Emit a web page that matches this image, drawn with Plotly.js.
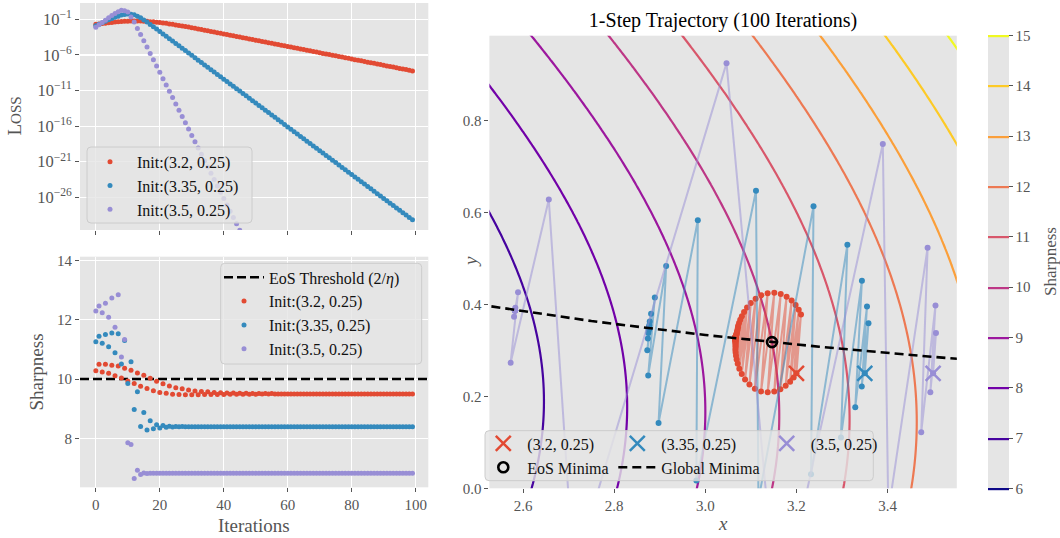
<!DOCTYPE html>
<html>
<head>
<meta charset="utf-8">
<script src="https://cdn.plot.ly/plotly-3.0.1.min.js"></script>
<style>html,body{margin:0;padding:0;background:#fff;}</style>
</head>
<body>
<div id="chart" style="width:1060px;height:538px;"></div>
<script>
// ---------------- data ----------------
const iterations = [
 0,1,2,3,4,5,6,7,8,9,10,11,12,13,14,15,16,17,18,19,
 20,21,22,23,24,25,26,27,28,29,30,31,32,33,34,35,36,37,38,39,
 40,41,42,43,44,45,46,47,48,49,50,51,52,53,54,55,56,57,58,59,
 60,61,62,63,64,65,66,67,68,69,70,71,72,73,74,75,76,77,78,79,
 80,81,82,83,84,85,86,87,88,89,90,91,92,93,94,95,96,97,98,99];

const seriesNames = ['Init:(3.2, 0.25)', 'Init:(3.35, 0.25)', 'Init:(3.5, 0.25)'];
const initLabels = ['(3.2, 0.25)', '(3.35, 0.25)', '(3.5, 0.25)'];
const initX = [3.2, 3.35, 3.5];
const initY = [0.25, 0.25, 0.25];

// loss, given as log10 values
const lossRedLog10 = [
 -1.70,-1.64,-1.58,-1.53,-1.47,-1.43,-1.37,-1.34,-1.30,-1.28,
 -1.25,-1.24,-1.22,-1.24,-1.23,-1.26,-1.27,-1.32,-1.34,-1.40,
 -1.44,-1.51,-1.56,-1.64,-1.70,-1.78,-1.85,-1.93,-2.01,-2.09,
 -2.17,-2.26,-2.34,-2.43,-2.52,-2.61,-2.70,-2.78,-2.87,-2.96,
 -3.05,-3.14,-3.22,-3.31,-3.40,-3.49,-3.58,-3.66,-3.75,-3.84,
 -3.93,-4.02,-4.10,-4.19,-4.28,-4.37,-4.46,-4.54,-4.63,-4.72,
 -4.81,-4.90,-4.98,-5.07,-5.16,-5.25,-5.34,-5.42,-5.51,-5.60,
 -5.69,-5.78,-5.86,-5.95,-6.04,-6.13,-6.22,-6.30,-6.39,-6.48,
 -6.57,-6.66,-6.74,-6.83,-6.92,-7.01,-7.10,-7.18,-7.27,-7.36,
 -7.45,-7.54,-7.62,-7.71,-7.80,-7.89,-7.98,-8.06,-8.15,-8.24];
const lossBlueLog10 = [
 -1.88,-1.68,-1.47,-1.27,-1.07,-0.89,-0.70,-0.55,-0.39,-0.31,
 -0.24,-0.29,-0.35,-0.56,-0.76,-1.08,-1.36,-1.71,-2.02,-2.37,
 -2.70,-3.04,-3.37,-3.71,-4.04,-4.38,-4.72,-5.05,-5.39,-5.72,
 -6.06,-6.39,-6.73,-7.06,-7.40,-7.73,-8.07,-8.40,-8.74,-9.07,
 -9.41,-9.74,-10.08,-10.41,-10.75,-11.08,-11.42,-11.75,-12.09,-12.42,
 -12.76,-13.09,-13.43,-13.76,-14.10,-14.43,-14.77,-15.10,-15.44,-15.77,
 -16.11,-16.44,-16.78,-17.11,-17.45,-17.78,-18.12,-18.45,-18.79,-19.12,
 -19.46,-19.79,-20.13,-20.46,-20.80,-21.13,-21.47,-21.80,-22.14,-22.47,
 -22.81,-23.14,-23.48,-23.81,-24.15,-24.48,-24.82,-25.15,-25.49,-25.82,
 -26.16,-26.49,-26.83,-27.16,-27.50,-27.83,-28.17,-28.50,-28.84,-29.17];
// purple drops out of the axis range after iteration 46
const lossPurpleLog10 = [
 -2.11,-1.77,-1.44,-1.11,-0.78,-0.47,-0.16,0.07,0.27,0.22,
 0.05,-0.65,-1.36,-2.27,-3.13,-4.02,-4.89,-5.78,-6.67,-7.55,
 -8.44,-9.33,-10.22,-11.10,-11.99,-12.88,-13.76,-14.65,-15.54,-16.42,
 -17.31,-18.20,-19.09,-19.97,-20.86,-21.75,-22.63,-23.52,-24.41,-25.29,
 -26.18,-27.07,-27.95,-28.84,-29.73,-30.62,-31.50];

const sharpRed = [
 10.28,10.50,10.24,10.50,10.20,10.47,10.11,10.44,10.04,10.37,
 9.94,10.30,9.85,10.21,9.76,10.13,9.68,10.03,9.61,9.93,
 9.55,9.84,9.52,9.77,9.49,9.71,9.48,9.67,9.47,9.63,
 9.47,9.60,9.47,9.58,9.48,9.57,9.48,9.55,9.48,9.54,
 9.48,9.53,9.49,9.53,9.49,9.52,9.49,9.52,9.49,9.51,
 9.49,9.51,9.50,9.51,9.50,9.51,9.50,9.50,9.50,9.50,
 9.50,9.50,9.50,9.50,9.50,9.50,9.50,9.50,9.50,9.50,
 9.50,9.50,9.50,9.50,9.50,9.50,9.50,9.50,9.50,9.50,
 9.50,9.50,9.50,9.50,9.50,9.50,9.50,9.50,9.50,9.50,
 9.50,9.50,9.50,9.50,9.50,9.50,9.50,9.50,9.50,9.50];
const sharpBlue = [
 11.26,11.45,11.21,11.51,11.09,11.56,10.89,11.53,10.51,11.30,
 9.85,10.59,8.97,9.57,8.40,8.87,8.28,8.59,8.32,8.46,
 8.35,8.43,8.37,8.41,8.38,8.40,8.39,8.40,8.39,8.39,
 8.39,8.39,8.39,8.39,8.39,8.39,8.39,8.39,8.39,8.39,
 8.39,8.39,8.39,8.39,8.39,8.39,8.39,8.39,8.39,8.39,
 8.39,8.39,8.39,8.39,8.39,8.39,8.39,8.39,8.39,8.39,
 8.39,8.39,8.39,8.39,8.39,8.39,8.39,8.39,8.39,8.39,
 8.39,8.39,8.39,8.39,8.39,8.39,8.39,8.39,8.39,8.39,
 8.39,8.39,8.39,8.39,8.39,8.39,8.39,8.39,8.39,8.39,
 8.39,8.39,8.39,8.39,8.39,8.39,8.39,8.39,8.39,8.39];
const sharpPurple = [
 12.30,12.47,12.24,12.56,12.09,12.74,11.75,12.85,10.75,11.34,
 7.85,7.79,6.64,6.92,6.78,6.83,6.81,6.82,6.82,6.82,
 6.82,6.82,6.82,6.82,6.82,6.82,6.82,6.82,6.82,6.82,
 6.82,6.82,6.82,6.82,6.82,6.82,6.82,6.82,6.82,6.82,
 6.82,6.82,6.82,6.82,6.82,6.82,6.82,6.82,6.82,6.82,
 6.82,6.82,6.82,6.82,6.82,6.82,6.82,6.82,6.82,6.82,
 6.82,6.82,6.82,6.82,6.82,6.82,6.82,6.82,6.82,6.82,
 6.82,6.82,6.82,6.82,6.82,6.82,6.82,6.82,6.82,6.82,
 6.82,6.82,6.82,6.82,6.82,6.82,6.82,6.82,6.82,6.82,
 6.82,6.82,6.82,6.82,6.82,6.82,6.82,6.82,6.82,6.82];
const eosThreshold = 10;

// trajectories (x, y)
const trajRedX = [
 3.2000,3.2100,3.1939,3.2050,3.1861,3.1982,3.1763,3.1894,3.1647,3.1784,
 3.1513,3.1655,3.1369,3.1514,3.1224,3.1368,3.1087,3.1229,3.0968,3.1104,
 3.0872,3.0999,3.0799,3.0915,3.0746,3.0850,3.0711,3.0802,3.0687,3.0766,
 3.0673,3.0740,3.0665,3.0721,3.0660,3.0717,3.0663,3.0710,3.0664,3.0702,
 3.0663,3.0695,3.0663,3.0689,3.0663,3.0685,3.0662,3.0680,3.0662,3.0677,
 3.0661,3.0675,3.0661,3.0672,3.0660,3.0670,3.0660,3.0668,3.0659,3.0666,
 3.0658,3.0664,3.0658,3.0663,3.0657,3.0662,3.0657,3.0661,3.0656,3.0660,
 3.0655,3.0658,3.0655,3.0657,3.0654,3.0656,3.0654,3.0656,3.0653,3.0655,
 3.0653,3.0655,3.0653,3.0654,3.0653,3.0654,3.0652,3.0654,3.0652,3.0653,
 3.0652,3.0653,3.0652,3.0653,3.0652,3.0653,3.0652,3.0652,3.0652,3.0652];
const trajRedY = [
 0.2500,0.3780,0.2410,0.3881,0.2318,0.3984,0.2230,0.4083,0.2156,0.4167,
 0.2104,0.4227,0.2086,0.4254,0.2107,0.4243,0.2167,0.4196,0.2257,0.4121,
 0.2368,0.4029,0.2486,0.3930,0.2601,0.3833,0.2707,0.3743,0.2801,0.3663,
 0.2882,0.3594,0.2950,0.3535,0.3007,0.3502,0.3050,0.3461,0.3087,0.3427,
 0.3117,0.3399,0.3143,0.3376,0.3164,0.3357,0.3181,0.3341,0.3196,0.3328,
 0.3208,0.3317,0.3217,0.3308,0.3225,0.3301,0.3232,0.3295,0.3238,0.3290,
 0.3243,0.3285,0.3247,0.3282,0.3250,0.3279,0.3253,0.3277,0.3255,0.3275,
 0.3257,0.3273,0.3259,0.3271,0.3260,0.3270,0.3261,0.3269,0.3262,0.3268,
 0.3262,0.3267,0.3263,0.3267,0.3263,0.3266,0.3264,0.3266,0.3264,0.3266,
 0.3265,0.3265,0.3265,0.3265,0.3265,0.3265,0.3265,0.3265,0.3265,0.3265];
const trajBlueX = [
 3.3500,3.3581,3.3434,3.3549,3.3291,3.3437,3.2977,3.3118,3.2320,3.2375,
 3.1166,3.1112,2.9803,2.9835,2.8973,2.9140,2.8746,2.8891,2.8726,2.8809,
 2.8739,2.8780,2.8749,2.8770,2.8756,2.8765,2.8759,2.8763,2.8760,2.8762,
 2.8761,2.8761,2.8761,2.8761,2.8761,2.8761,2.8761,2.8761,2.8761,2.8761,
 2.8761,2.8761,2.8761,2.8761,2.8761,2.8761,2.8761,2.8761,2.8761,2.8761,
 2.8761,2.8761,2.8761,2.8761,2.8761,2.8761,2.8761,2.8761,2.8761,2.8761,
 2.8761,2.8761,2.8761,2.8761,2.8761,2.8761,2.8761,2.8761,2.8761,2.8761,
 2.8761,2.8761,2.8761,2.8761,2.8761,2.8761,2.8761,2.8761,2.8761,2.8761,
 2.8761,2.8761,2.8761,2.8761,2.8761,2.8761,2.8761,2.8761,2.8761,2.8761,
 2.8761,2.8761,2.8761,2.8761,2.8761,2.8761,2.8761,2.8761,2.8761,2.8761];
const trajBlueY = [
 0.2500,0.3589,0.2211,0.3955,0.1762,0.4515,0.1107,0.5295,0.0304,0.6133,
 -0.0249,0.6468,0.0169,0.5829,0.1419,0.4831,0.2454,0.4147,0.3002,0.3793,
 0.3259,0.3624,0.3377,0.3545,0.3431,0.3508,0.3456,0.3491,0.3467,0.3483,
 0.3472,0.3480,0.3475,0.3478,0.3477,0.3477,0.3477,0.3477,0.3477,0.3477,
 0.3477,0.3477,0.3477,0.3477,0.3477,0.3477,0.3477,0.3477,0.3477,0.3477,
 0.3477,0.3477,0.3477,0.3477,0.3477,0.3477,0.3477,0.3477,0.3477,0.3477,
 0.3477,0.3477,0.3477,0.3477,0.3477,0.3477,0.3477,0.3477,0.3477,0.3477,
 0.3477,0.3477,0.3477,0.3477,0.3477,0.3477,0.3477,0.3477,0.3477,0.3477,
 0.3477,0.3477,0.3477,0.3477,0.3477,0.3477,0.3477,0.3477,0.3477,0.3477,
 0.3477,0.3477,0.3477,0.3477,0.3477,0.3477,0.3477,0.3477,0.3477,0.3477];
const trajPurpleX = [
 3.5000,3.5063,3.4939,3.5052,3.4739,3.4879,3.4017,3.3896,3.1595,3.0465,
 2.7108,2.6564,2.5726,2.5889,2.5801,2.5829,2.5819,2.5823,2.5821,2.5822,
 2.5822,2.5822,2.5822,2.5822,2.5822,2.5822,2.5822,2.5822,2.5822,2.5822,
 2.5822,2.5822,2.5822,2.5822,2.5822,2.5822,2.5822,2.5822,2.5822,2.5822,
 2.5822,2.5822,2.5822,2.5822,2.5822,2.5822,2.5822,2.5822,2.5822,2.5822,
 2.5822,2.5822,2.5822,2.5822,2.5822,2.5822,2.5822,2.5822,2.5822,2.5822,
 2.5822,2.5822,2.5822,2.5822,2.5822,2.5822,2.5822,2.5822,2.5822,2.5822,
 2.5822,2.5822,2.5822,2.5822,2.5822,2.5822,2.5822,2.5822,2.5822,2.5822,
 2.5822,2.5822,2.5822,2.5822,2.5822,2.5822,2.5822,2.5822,2.5822,2.5822,
 2.5822,2.5822,2.5822,2.5822,2.5822,2.5822,2.5822,2.5822,2.5822,2.5822];
const trajPurpleY = [
 0.2500,0.3375,0.2089,0.3976,0.1216,0.5229,-0.0518,0.7484,-0.2934,0.9243,
 -0.1821,0.6277,0.2731,0.4261,0.3727,0.3925,0.3854,0.3880,0.3870,0.3874,
 0.3873,0.3873,0.3873,0.3873,0.3873,0.3873,0.3873,0.3873,0.3873,0.3873,
 0.3873,0.3873,0.3873,0.3873,0.3873,0.3873,0.3873,0.3873,0.3873,0.3873,
 0.3873,0.3873,0.3873,0.3873,0.3873,0.3873,0.3873,0.3873,0.3873,0.3873,
 0.3873,0.3873,0.3873,0.3873,0.3873,0.3873,0.3873,0.3873,0.3873,0.3873,
 0.3873,0.3873,0.3873,0.3873,0.3873,0.3873,0.3873,0.3873,0.3873,0.3873,
 0.3873,0.3873,0.3873,0.3873,0.3873,0.3873,0.3873,0.3873,0.3873,0.3873,
 0.3873,0.3873,0.3873,0.3873,0.3873,0.3873,0.3873,0.3873,0.3873,0.3873,
 0.3873,0.3873,0.3873,0.3873,0.3873,0.3873,0.3873,0.3873,0.3873,0.3873];

// global minima curve (xy = 1) and EoS minimum
const globalMinX = [2.50, 2.75, 3.00, 3.25, 3.50, 3.60];
const globalMinY = [0.4000, 0.3636, 0.3333, 0.3077, 0.2857, 0.2778];
const eosMinX = [3.1463];
const eosMinY = [0.3178];

// sharpness contour levels
const contourLevels = [6, 7, 8, 9, 10, 11, 12, 13, 14, 15];

// ---------------- styling ----------------
const FONT = '"Liberation Serif", "DejaVu Serif", serif';
const W = 1060, H = 538;
const fx = v => v / W, fy = v => 1 - v / H;
const RED = '#E24A33', BLUE = '#348ABD', PURPLE = '#988ED5';
const RED_A = 'rgba(226,74,51,0.5)', BLUE_A = 'rgba(52,138,189,0.5)', PURPLE_A = 'rgba(152,142,213,0.5)';
const plasma = ['#0d0887','#46039f','#7201a8','#9c179e','#bd3786','#d8576b','#ed7953','#fb9f3a','#fdca26','#f0f921'];
const plasmaScale = plasma.map((c, i) => [i / (plasma.length - 1), c]);
const GRAY = '#555555';
const leftXRange = [-4.95, 103.95];

// sharpness surface: largest Hessian eigenvalue of L(x,y) = (xy-1)^2 / 2
function hessTopEig(x, y) {
  const a = y * y, d = x * x, b = 2 * x * y - 1;
  const m = (a + d) / 2, h = (d - a) / 2;
  return m + Math.sqrt(h * h + b * b);
}
const gridX = [], gridY = [];
for (let i = 0; i <= 110; i++) gridX.push(2.50 + i * 0.01);
for (let j = 0; j <= 104; j++) gridY.push(-0.02 + j * 0.01);
const gridZ = gridY.map(y => gridX.map(x => hessTopEig(x, y)));

const toPow = a => a.map(v => Math.pow(10, v));

const traces = [];
// --- loss panel
[[lossRedLog10, RED], [lossBlueLog10, BLUE], [lossPurpleLog10, PURPLE]].forEach((s, i) => {
  traces.push({type: 'scatter', mode: 'markers', x: iterations, y: toPow(s[0]),
    xaxis: 'x', yaxis: 'y', name: seriesNames[i], legend: 'legend',
    marker: {color: s[1], size: 5}, hoverinfo: 'skip'});
});
// --- sharpness panel
traces.push({type: 'scatter', mode: 'lines', x: leftXRange, y: [eosThreshold, eosThreshold],
  xaxis: 'x2', yaxis: 'y2', name: 'EoS Threshold (2/<i>η</i>)', legend: 'legend2',
  line: {color: '#000', width: 2.5, dash: '9px,4px'}, hoverinfo: 'skip'});
[[sharpRed, RED], [sharpBlue, BLUE], [sharpPurple, PURPLE]].forEach((s, i) => {
  traces.push({type: 'scatter', mode: 'markers', x: iterations, y: s[0],
    xaxis: 'x2', yaxis: 'y2', name: seriesNames[i], legend: 'legend2',
    marker: {color: s[1], size: 5}, hoverinfo: 'skip'});
});
// --- contour
traces.push({type: 'contour', x: gridX, y: gridY, z: gridZ, xaxis: 'x3', yaxis: 'y3',
  contours: {start: contourLevels[0], end: contourLevels[contourLevels.length - 1], size: 1, coloring: 'lines'},
  line: {width: 2.2, smoothing: 1},
  colorscale: plasmaScale, zauto: false, zmin: contourLevels[0], zmax: contourLevels[contourLevels.length - 1],
  showlegend: false, hoverinfo: 'skip',
  colorbar: {
    thickness: 21, thicknessmode: 'pixels', len: (488.3 - 35.7) / H, lenmode: 'fraction',
    x: fx(988), xanchor: 'left', xpad: 0, y: fy((35.7 + 488.3) / 2), yanchor: 'middle', ypad: 0,
    outlinewidth: 0, tickmode: 'array', tickvals: contourLevels,
    ticks: 'outside', ticklen: 4, tickcolor: GRAY,
    tickfont: {family: FONT, size: 15, color: GRAY}
  }});
// --- trajectories
[[trajRedX, trajRedY, RED, RED_A], [trajBlueX, trajBlueY, BLUE, BLUE_A], [trajPurpleX, trajPurpleY, PURPLE, PURPLE_A]].forEach(s => {
  traces.push({type: 'scatter', mode: 'lines+markers', x: s[0], y: s[1], xaxis: 'x3', yaxis: 'y3',
    showlegend: false, line: {color: s[3], width: 2}, marker: {color: s[2], size: 6}, hoverinfo: 'skip'});
});
traces.push({type: 'scatter', mode: 'lines', x: globalMinX, y: globalMinY, xaxis: 'x3', yaxis: 'y3',
  name: 'Global Minima', legend: 'legend7', line: {color: '#000', width: 2.6, dash: '9px,5px'}, hoverinfo: 'skip'});
traces.push({type: 'scatter', mode: 'markers', x: eosMinX, y: eosMinY, xaxis: 'x3', yaxis: 'y3',
  name: 'EoS Minima', legend: 'legend6',
  marker: {symbol: 'circle-open', size: 10, color: '#000', line: {color: '#000', width: 2.6}}, hoverinfo: 'skip'});
[RED, BLUE, PURPLE].forEach((c, i) => {
  traces.push({type: 'scatter', mode: 'markers', x: [initX[i]], y: [initY[i]], xaxis: 'x3', yaxis: 'y3',
    name: initLabels[i], legend: 'legend' + (3 + i),
    marker: {symbol: 'x-thin-open', size: 15, color: c, line: {color: c, width: 2.5}}, hoverinfo: 'skip'});
});

// ---------------- layout ----------------
const tickFont = {family: FONT, size: 15, color: GRAY};
const baseAxis = {ticks: 'outside', ticklen: 4, tickwidth: 1, tickcolor: GRAY, tickfont: tickFont,
  zeroline: false, showline: false, gridcolor: '#FFFFFF', gridwidth: 1.2, automargin: false};

function roundRect(x0, y0, x1, y1, r) {
  const X0 = fx(x0), X1 = fx(x1), YT = fy(y0), YB = fy(y1), rx = r / W, ry = r / H;
  return `M${X0 + rx},${YT} L${X1 - rx},${YT} Q${X1},${YT} ${X1},${YT - ry} L${X1},${YB + ry} Q${X1},${YB} ${X1 - rx},${YB} ` +
         `L${X0 + rx},${YB} Q${X0},${YB} ${X0},${YB + ry} L${X0},${YT - ry} Q${X0},${YT} ${X0 + rx},${YT} Z`;
}
const legendBox = (x0, y0, x1, y1) => ({type: 'path', xref: 'paper', yref: 'paper', path: roundRect(x0, y0, x1, y1, 4),
  fillcolor: 'rgba(229,229,229,0.8)', line: {color: '#CCCCCC', width: 1}, layer: 'above'});
// symbol centre sits (itemwidth + 10) / 2 px right of x, text starts itemwidth + 10 px right of x
const legendStyle = (xp, yp, iw) => ({x: fx(xp), y: fy(yp), xanchor: 'left', yanchor: 'top', itemwidth: iw,
  bgcolor: 'rgba(0,0,0,0)', borderwidth: 0, font: {family: FONT, size: 16, color: '#111111'}});

const logTicks = [-1, -6, -11, -16, -21, -26];

const layout = {
  width: W, height: H, margin: {l: 0, r: 0, t: 0, b: 0},
  paper_bgcolor: '#FFFFFF', plot_bgcolor: '#E5E5E5',
  font: {family: FONT, color: GRAY},
  showlegend: true,
  title: {text: '1-Step Trajectory (100 Iterations)', x: fx(723), y: fy(20), xanchor: 'center', yanchor: 'middle',
    xref: 'paper', yref: 'paper', font: {family: FONT, size: 20, color: '#000'}},
  xaxis: Object.assign({}, baseAxis, {domain: [fx(80), fx(428.3)], anchor: 'y', range: leftXRange,
    tickmode: 'linear', tick0: 0, dtick: 20, showticklabels: false}),
  yaxis: Object.assign({}, baseAxis, {domain: [fy(230), fy(3)], anchor: 'x', type: 'log', range: [-30.6, 1.3],
    tickmode: 'array', tickvals: logTicks.map(e => Math.pow(10, e)),
    tickfont: {family: FONT, size: 16.5, color: GRAY},
    ticktext: logTicks.map(e => '10<sup>−' + Math.abs(e) + '</sup>')}),
  xaxis2: Object.assign({}, baseAxis, {domain: [fx(80), fx(428.3)], anchor: 'y2', range: leftXRange,
    tickmode: 'linear', tick0: 0, dtick: 20}),
  yaxis2: Object.assign({}, baseAxis, {domain: [fy(487.3), fy(256.7)], anchor: 'x2', range: [6.345, 14.135],
    tickmode: 'array', tickvals: [8, 10, 12, 14]}),
  xaxis3: Object.assign({}, baseAxis, {domain: [fx(489.4), fx(956.8)], anchor: 'y3', range: [2.526, 3.552],
    showgrid: false, tickmode: 'array', tickvals: [2.6, 2.8, 3.0, 3.2, 3.4], tickformat: '.1f'}),
  yaxis3: Object.assign({}, baseAxis, {domain: [fy(488.3), fy(35.7)], anchor: 'x3', range: [0, 0.984],
    showgrid: false, tickmode: 'array', tickvals: [0, 0.2, 0.4, 0.6, 0.8], tickformat: '.1f'}),
  legend: legendStyle(83, 144.8, 44),
  legend2: legendStyle(219, 260.4, 40),
  legend3: legendStyle(479.3, 426.4, 38),
  legend4: legendStyle(613.3, 426.4, 38),
  legend5: legendStyle(762.7, 426.4, 38),
  legend6: legendStyle(479.3, 450.4, 38),
  legend7: legendStyle(613.3, 450.4, 38),
  shapes: [
    {type: 'rect', xref: 'paper', yref: 'paper', x0: fx(988), x1: fx(1009), y0: fy(488.3), y1: fy(35.7),
      fillcolor: '#E5E5E5', line: {width: 0}, layer: 'below'},
    legendBox(87, 147, 252, 223),
    legendBox(220.7, 263.3, 421.7, 364),
    legendBox(485, 430.7, 873.3, 480.7)
  ],
  annotations: [
    {text: 'L<span style="font-size:15px">OSS</span>', x: fx(14), y: fy(116.5), xref: 'paper', yref: 'paper',
      textangle: -90, showarrow: false, xanchor: 'center', yanchor: 'middle', font: {family: FONT, size: 19, color: GRAY}},
    {text: 'Sharpness', x: fx(35.5), y: fy(372), xref: 'paper', yref: 'paper',
      textangle: -90, showarrow: false, xanchor: 'center', yanchor: 'middle', font: {family: FONT, size: 19, color: GRAY}},
    {text: 'Iterations', x: fx(254), y: fy(525), xref: 'paper', yref: 'paper',
      showarrow: false, xanchor: 'center', yanchor: 'middle', font: {family: FONT, size: 19, color: GRAY}},
    {text: '<i>x</i>', x: fx(723), y: fy(523), xref: 'paper', yref: 'paper',
      showarrow: false, xanchor: 'center', yanchor: 'middle', font: {family: FONT, size: 19, color: GRAY}},
    {text: '<i>y</i>', x: fx(470), y: fy(262), xref: 'paper', yref: 'paper', textangle: -90,
      showarrow: false, xanchor: 'center', yanchor: 'middle', font: {family: FONT, size: 19, color: GRAY}},
    {text: 'Sharpness', x: fx(1050), y: fy(262), xref: 'paper', yref: 'paper', textangle: -90,
      showarrow: false, xanchor: 'center', yanchor: 'middle', font: {family: FONT, size: 17, color: GRAY}}
  ]
};

Plotly.newPlot('chart', traces, layout, {staticPlot: true, displayModeBar: false});
</script>
</body>
</html>
